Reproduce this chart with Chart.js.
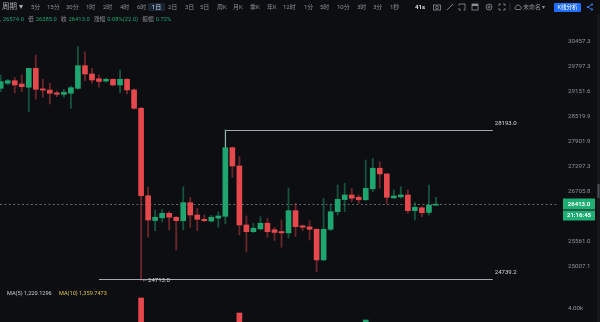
<!DOCTYPE html>
<html lang="zh-CN">
<head>
<meta charset="utf-8">
<title>日K</title>
<script src="https://cdn.jsdelivr.net/npm/chart.js@4.4.1/dist/chart.umd.min.js"></script>
<style>
  html, body { margin: 0; padding: 0; background: #0d0e11; }
  body { position: relative; width: 600px; height: 322px; overflow: hidden; font-family: Roboto, "Noto Sans CJK SC", sans-serif; }
  #kline { position: absolute; left: 0; top: 0; }
  .tb { position: absolute; top: 2px; height: 10px; line-height: 10px; font-size: 6px; color: #8b9098; white-space: nowrap; }
  .tb.on { top: 3px; height: 8px; line-height: 8px; width: 17px; text-align: center; background: #1b2536; color: #c9d6ee; border-radius: 1px; }
  .tb.btn { top: 3px; height: 9px; line-height: 9px; width: 27px; text-align: center; background: #1f6dff; color: #fff; border-radius: 1px; font-size: 5.5px; }
  .ico { position: absolute; top: 3px; width: 8px; height: 8px; }
  #ohlc { position: absolute; left: -5px; top: 15px; height: 8px; line-height: 8px; font-size: 5.8px; color: #8b9098; white-space: nowrap; }
  #ohlc .v { color: #22a46e; margin: 0 4px 0 2px; }
  #maLegend { position: absolute; left: 0; top: 289px; height: 8px; line-height: 8px; font-size: 5.6px; white-space: nowrap; }
  #maLegend span { position: absolute; top: 0; }
</style>
</head>
<body>
<canvas id="kline" width="600" height="322"></canvas>

<div class="tb" style="left:2px;font-size:7.5px;color:#a9aeb6">周期 ▾</div>
<div class="tb" style="left:31px">5分</div>
<div class="tb" style="left:47px">15分</div>
<div class="tb" style="left:66px">30分</div>
<div class="tb" style="left:86px">1时</div>
<div class="tb" style="left:103px">2时</div>
<div class="tb" style="left:120px">4时</div>
<div class="tb" style="left:137px">6时</div>
<div class="tb on" style="left:148px">1日</div>
<div class="tb" style="left:168px">2日</div>
<div class="tb" style="left:185px">3日</div>
<div class="tb" style="left:200px">5日</div>
<div class="tb" style="left:217px">周K</div>
<div class="tb" style="left:233px">月K</div>
<div class="tb" style="left:250px">季K</div>
<div class="tb" style="left:267px">年K</div>
<div class="tb" style="left:283px">12时</div>
<div class="tb" style="left:304px">1分</div>
<div class="tb" style="left:320px">5时</div>
<div class="tb" style="left:337px">10分</div>
<div class="tb" style="left:357px">3时</div>
<div class="tb" style="left:373px">3分</div>
<div class="tb" style="left:390px">1秒</div>
<div class="tb" style="left:415px;color:#e3e6ea;font-weight:bold">41s</div>

<svg class="ico" style="left:433px" viewBox="0 0 8 8"><rect x="0.5" y="2" width="7" height="5" fill="none" stroke="#8b9098" stroke-width="0.8"/><circle cx="4" cy="4.5" r="1.4" fill="none" stroke="#8b9098" stroke-width="0.8"/></svg>
<svg class="ico" style="left:446px" viewBox="0 0 8 8"><path d="M1 7 L6.5 1.5 M5.5 0.8 L7.2 2.5" fill="none" stroke="#8b9098" stroke-width="0.8"/></svg>
<svg class="ico" style="left:458px" viewBox="0 0 8 8"><path d="M1 2.5 V1 H7 V7 H5.5 M1 5 V7 H3" fill="none" stroke="#8b9098" stroke-width="0.8"/></svg>
<svg class="ico" style="left:471px" viewBox="0 0 8 8"><rect x="1" y="1" width="6" height="6" fill="none" stroke="#8b9098" stroke-width="0.8"/><rect x="1" y="1" width="6" height="2" fill="#8b9098"/></svg>
<svg class="ico" style="left:485px" viewBox="0 0 8 8"><circle cx="4" cy="4" r="3" fill="none" stroke="#8b9098" stroke-width="0.8"/><circle cx="4" cy="4" r="1.1" fill="none" stroke="#8b9098" stroke-width="0.8"/></svg>
<svg class="ico" style="left:498px" viewBox="0 0 8 8"><path d="M1 3 V1 H3 M5 1 H7 V3 M7 5 V7 H5 M3 7 H1 V5" fill="none" stroke="#8b9098" stroke-width="0.8"/></svg>
<svg class="ico" style="left:509px;width:2px" viewBox="0 0 2 8"><path d="M1 0 V8" stroke="#3a3e45" stroke-width="0.8"/></svg>
<svg class="ico" style="left:514px" viewBox="0 0 8 8"><path d="M2 6.5 H6.3 A1.6 1.6 0 0 0 6 3.4 A2.2 2.2 0 0 0 1.8 3.8 A1.4 1.4 0 0 0 2 6.5 Z" fill="none" stroke="#8b9098" stroke-width="0.8"/></svg>
<div class="tb" style="left:523px">未命名 ▾</div>
<div class="tb btn" style="left:554px">K线分析</div>
<svg class="ico" style="left:586px" viewBox="0 0 8 8"><path d="M6 1.5 L1.8 4 L6 6.5" fill="none" stroke="#3d82ff" stroke-width="0.8"/><circle cx="6" cy="1.5" r="1" fill="#3d82ff"/><circle cx="1.8" cy="4" r="1" fill="#3d82ff"/><circle cx="6" cy="6.5" r="1" fill="#3d82ff"/></svg>

<div id="ohlc"></div>
<div id="maLegend"></div>

<script>
// 日K 蜡烛：开、高、低、收（从左到右）
var candleOpen = [29226, 29354, 29420, 29336, 29252, 29740, 29210, 29180, 29110, 29070,
  29100, 29225, 29808, 29593, 29470, 29410, 29455, 29310, 29456, 29183,
  28720, 26610, 26040, 26100, 26205, 26114, 26036, 26449, 26166, 26067,
  26030, 26095, 26135, 27749, 27310, 25939, 25788, 25850, 25978, 25830,
  25790, 25760, 26265, 25920, 25895, 25842, 25159, 25842, 26242, 26520,
  26627, 26575, 26515, 26770, 27256, 27120, 26557, 26585, 26627, 26265,
  26330, 26225, 26391];
var candleHigh = [29567, 29456, 29498, 29567, 29748, 30087, 29456, 29354, 29157, 29200,
  29285, 30306, 30174, 29740, 29567, 29490, 29470, 29696, 29475, 29210,
  28745, 26807, 26281, 26297, 26242, 26130, 26820, 26573, 26320, 26166,
  26160, 26242, 28193, 27765, 27532, 26143, 25978, 26128, 26091, 25887,
  26052, 26790, 26435, 25935, 26036, 25850, 26550, 26418, 26860, 26900,
  26783, 26627, 27453, 27493, 27412, 27130, 26744, 26820, 26744, 26449,
  26358, 26860, 26574];
var candleLow = [29139, 29310, 29114, 29139, 28635, 28947, 28999, 28828, 29012, 28999,
  28720, 29200, 29420, 29354, 29252, 29385, 29300, 29114, 29081, 28695,
  24713, 25662, 25810, 26007, 25826, 25380, 25826, 25887, 25810, 26014,
  26000, 25887, 25962, 27042, 25714, 25335, 25766, 25826, 25662, 25590,
  25439, 25646, 25676, 25810, 25601, 24903, 25150, 25810, 26166, 26242,
  26472, 26435, 26505, 26704, 26783, 26418, 26550, 26550, 26205, 26052,
  26128, 26166, 26385];
var candleClose = [29395, 29420, 29310, 29267, 29740, 29200, 29180, 29099, 29073, 29124,
  29241, 29808, 29593, 29438, 29400, 29455, 29310, 29456, 29183, 28720,
  26610, 26052, 26114, 26205, 26114, 26036, 26449, 26166, 26067, 26036,
  26114, 26143, 27749, 27310, 25939, 25788, 25865, 25978, 25788, 25770,
  25760, 26265, 25901, 25887, 25842, 25159, 25842, 26242, 26527, 26627,
  26550, 26515, 26783, 27256, 27120, 26573, 26604, 26627, 26265, 26343,
  26219, 26391, 26413];
var candleVolume = [1820.5, 1430.2, 1610.8, 1380.4, 2450.7, 2610.3, 1290.6, 1540.9, 980.3, 1120.5,
  1730.2, 2780.4, 2290.6, 1510.3, 1180.7, 760.2, 890.5, 1650.8, 1420.3, 2120.6,
  4690.5, 2860.2, 1730.4, 1240.6, 1310.8, 1580.2, 2010.5, 1690.3, 1250.7, 830.4,
  760.9, 1090.2, 2940.6, 2410.3, 3655.8, 2180.4, 1120.6, 1060.3, 1310.5, 980.2,
  1150.7, 2280.4, 1640.3, 720.5, 1230.8, 2760.4, 2890.6, 1960.3, 2050.7, 1830.2,
  1180.5, 960.4, 3172.6, 2650.318, 1399.874, 2100.265, 700.142, 646.226, 1650.214, 1180.532,
  1260.405, 1529.0693, 480.4277];
var priceTicks = [30457.3, 29797.3, 29151.6, 28519.9, 27901.9, 27297.3, 26705.8, 25561.0, 25007.1];
var volumeTicks = [4000];
var drawnLines = [28193.0, 24739.2];
var countdownText = '21:16:45';

var UP = '#1fa56f';
var DOWN = '#e5484d';
var UP_WICK = 'rgba(31,165,111,0.45)';
var DOWN_WICK = 'rgba(229,72,77,0.42)';
var AXIS_FONT = { family: 'Roboto', size: 6.2 };

function fmt(v, d) {
  return Number(v).toLocaleString('en-US', { minimumFractionDigits: d, maximumFractionDigits: d });
}

function movingAvg(arr, n) {
  var s = 0;
  for (var i = arr.length - n; i < arr.length; i++) s += arr[i];
  return s / n;
}

function renderHeader() {
  var last = candleClose.length - 1;
  var prev = candleClose[last - 1];
  var chg = candleClose[last] - prev;
  var items = [
    ['高', candleHigh[last].toFixed(1)],
    ['低', candleLow[last].toFixed(1)],
    ['收', candleClose[last].toFixed(1)],
    ['涨幅', (chg / prev * 100).toFixed(2) + '%(' + chg.toFixed(1) + ')'],
    ['振幅', ((candleHigh[last] - candleLow[last]) / prev * 100).toFixed(2) + '%']
  ];
  document.getElementById('ohlc').innerHTML = items.map(function(it) {
    return '<span>' + it[0] + '</span><span class="v">' + it[1] + '</span>';
  }).join('');

  var vol = candleVolume[last];
  document.getElementById('maLegend').innerHTML =
    '<span style="right:596px;color:#c9ccd1">VOL:' + fmt(vol, 4) + '</span>' +
    '<span style="left:7px;color:#c9ccd1">MA(5) ' + fmt(movingAvg(candleVolume, 5), 4) + '</span>' +
    '<span style="left:59px;color:#e0c04a">MA(10) ' + fmt(movingAvg(candleVolume, 10), 4) + '</span>';
}

var overlay = {
  id: 'overlay',
  beforeDatasetsDraw: function(chart) {
    var ctx = chart.ctx, area = chart.chartArea, ys = chart.scales.y;
    var y = Math.round(ys.getPixelForValue(candleClose[candleClose.length - 1])) + 0.5;
    ctx.save();
    ctx.strokeStyle = '#62666d';
    ctx.lineWidth = 1;
    ctx.setLineDash([2, 2.4]);
    ctx.beginPath();
    ctx.moveTo(area.left, y);
    ctx.lineTo(area.right + 2, y);
    ctx.stroke();
    ctx.restore();
  },
  afterDatasetsDraw: function(chart) {
    var ctx = chart.ctx, xs = chart.scales.x, ys = chart.scales.y;
    var xEnd = xs.getPixelForValue(70.1);
    ctx.save();
    ctx.strokeStyle = '#a4a8ae';
    ctx.lineWidth = 1;
    ctx.font = '6px Roboto';
    ctx.fillStyle = '#d4d6da';
    ctx.textBaseline = 'middle';

    // 高位画线，从第 32 根K线引出
    var hx = Math.round(xs.getPixelForValue(32)) + 0.5;
    var hy = Math.round(ys.getPixelForValue(drawnLines[0])) + 0.5;
    ctx.beginPath();
    ctx.moveTo(hx, ys.getPixelForValue(candleClose[32]));
    ctx.lineTo(hx, hy);
    ctx.lineTo(xEnd, hy);
    ctx.stroke();
    ctx.fillText(drawnLines[0].toFixed(1), xEnd + 2, hy - 7);

    // 低位画线
    var ly = Math.round(ys.getPixelForValue(drawnLines[1])) + 0.5;
    ctx.beginPath();
    ctx.moveTo(xs.getPixelForValue(14), ly);
    ctx.lineTo(xEnd, ly);
    ctx.stroke();
    ctx.fillText(drawnLines[1].toFixed(1), xEnd + 2, ly - 7);

    // 区间最低点标记
    var lowIdx = 0;
    candleLow.forEach(function(v, i) { if (v < candleLow[lowIdx]) lowIdx = i; });
    ctx.fillText('\u2190' + candleLow[lowIdx].toFixed(1), xs.getPixelForValue(lowIdx) + 1, ys.getPixelForValue(candleLow[lowIdx]) + 0.5);
    ctx.restore();
  },
  afterDraw: function(chart) {
    var ctx = chart.ctx, ys = chart.scales.y, yv = chart.scales.yv;
    var area = chart.chartArea;
    ctx.save();
    // 最新价标签
    var py = ys.getPixelForValue(candleClose[candleClose.length - 1]);
    ctx.fillStyle = '#1cae72';
    ctx.fillRect(563, Math.round(py) - 5.5, 32, 11);
    ctx.fillRect(563, Math.round(py) + 6.5, 32, 10);
    ctx.fillStyle = '#ffffff';
    ctx.font = 'bold 6px Roboto';
    ctx.textAlign = 'center';
    ctx.textBaseline = 'middle';
    ctx.fillText(candleClose[candleClose.length - 1].toFixed(1), 579, Math.round(py) + 0.5);
    ctx.fillText(countdownText, 579, Math.round(py) + 11.8);

    // 成交量刻度
    ctx.fillStyle = '#8f949b';
    ctx.font = AXIS_FONT.size + 'px ' + AXIS_FONT.family;
    ctx.textAlign = 'left';
    volumeTicks.forEach(function(v) {
      ctx.fillText((v / 1000).toFixed(2) + 'k', area.right + 13, yv.getPixelForValue(v));
    });

    // 右侧滚动条
    ctx.fillStyle = '#15171b';
    ctx.fillRect(597, 14, 3, 308);
    ctx.fillStyle = '#4a4e55';
    ctx.fillRect(597.5, 184, 2, 14);
    ctx.restore();
  }
};

function buildChart() {
  var idx = candleOpen.map(function(v, i) { return i; });
  var up = idx.map(function(i) { return candleClose[i] >= candleOpen[i]; });
  var bodyColors = up.map(function(u) { return u ? UP : DOWN; });
  var wickColors = up.map(function(u) { return u ? UP_WICK : DOWN_WICK; });

  return new Chart(document.getElementById('kline'), {
    type: 'bar',
    data: {
      datasets: [
        {
          label: 'body',
          data: idx.map(function(i) { return { x: i, y: [candleOpen[i], candleClose[i]] }; }),
          backgroundColor: bodyColors,
          barThickness: 5,
          minBarLength: 1,
          grouped: false,
          yAxisID: 'y',
          order: 1
        },
        {
          label: 'wick',
          data: idx.map(function(i) { return { x: i, y: [candleLow[i], candleHigh[i]] }; }),
          backgroundColor: wickColors,
          barThickness: 1.2,
          grouped: false,
          yAxisID: 'y',
          order: 2
        },
        {
          label: 'volume',
          data: idx.map(function(i) { return { x: i, y: candleVolume[i] }; }),
          backgroundColor: bodyColors,
          barThickness: 5,
          grouped: false,
          yAxisID: 'yv',
          order: 3
        }
      ]
    },
    options: {
      responsive: false,
      animation: false,
      events: [],
      layout: { padding: { top: 28, left: 0, right: 0, bottom: 0 } },
      plugins: { legend: { display: false }, tooltip: { enabled: false } },
      scales: {
        x: { type: 'linear', display: false, offset: false, bounds: 'data', min: -0.1, max: 78.96 },
        y: {
          type: 'logarithmic',
          position: 'right',
          bounds: 'data',
          min: 23832.4,
          max: 30804.9,
          grid: { display: false, drawTicks: false },
          border: { display: false },
          ticks: {
            color: '#8f949b',
            font: AXIS_FONT,
            padding: 13,
            autoSkip: false,
            callback: function(v) { return Number(v).toFixed(1); }
          },
          afterBuildTicks: function(s) { s.ticks = priceTicks.map(function(v) { return { value: v }; }); },
          afterFit: function(s) { s.width = 45; s.paddingTop = 0; s.paddingBottom = 0; }
        },
        yv: { type: 'linear', display: false, position: 'right', bounds: 'data', min: 3034.5, max: 23310 }
      }
    },
    plugins: [overlay]
  });
}

renderHeader();
buildChart();
</script>
</body>
</html>
